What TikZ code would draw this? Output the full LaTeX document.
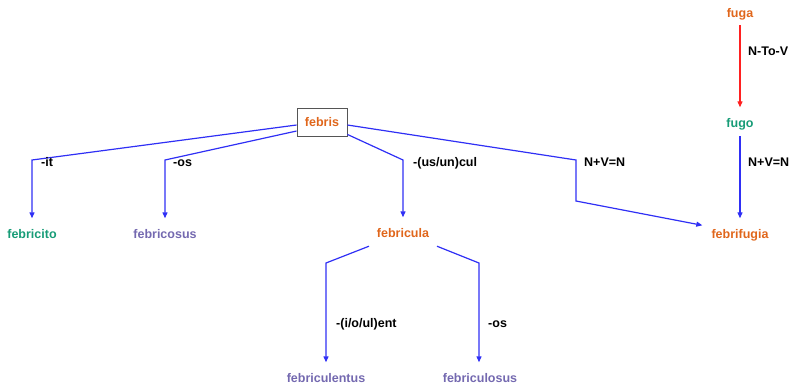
\documentclass[tikz,border=0pt]{standalone}
\usepackage{fontspec}
\setmainfont{Liberation Sans}
\usetikzlibrary{arrows.meta,calc}
\definecolor{wordorange}{HTML}{E0661B}
\definecolor{wordgreen}{HTML}{179C77}
\definecolor{wordpurple}{HTML}{7469B0}
\definecolor{linkblue}{HTML}{2F2FF5}
\definecolor{linkred}{HTML}{FF2020}
\definecolor{boxgray}{HTML}{555555}
\begin{document}
\begin{tikzpicture}[x=1bp,y=-1bp,
  every node/.style={font=\fontsize{12.5bp}{15bp}\selectfont\bfseries},
  word/.style={inner sep=0pt,text height=9.5bp,text depth=3bp,anchor=base},
  orangeword/.style={word,text=wordorange},
  greenword/.style={word,text=wordgreen},
  purpleword/.style={word,text=wordpurple},
  rootbox/.style={draw=boxgray,fill=white,line width=0.9bp,text=wordorange,
    minimum width=50bp,minimum height=28bp,inner sep=0pt},
  rulelabel/.style={inner sep=0pt,anchor=base west,text=black},
  link/.style={draw=linkblue,line width=1.2bp,-{Triangle[length=6bp,width=5bp]}},
  redlink/.style={link,draw=linkred,-{Triangle[length=6bp,width=5bp,fill=linkred]}}
]
\path[use as bounding box] (0,0) rectangle (791,388);

% words
\node[rootbox] (febris) at (322,122) {febris};
\node[greenword] (febricito) at (32,238) {febricito};
\node[purpleword] (febricosus) at (165,238) {febricosus};
\node[orangeword] (febricula) at (403,237) {febricula};
\node[orangeword] (febrifugia) at (740,238) {febrifugia};
\node[orangeword] (fuga) at (740,17) {fuga};
\node[greenword] (fugo) at (740,127) {fugo};
\node[purpleword] (febriculentus) at (326,382) {febriculentus};
\node[purpleword] (febriculosus) at (480,382) {febriculosus};

% bends of the connectors
\coordinate (b1) at (32,160);
\coordinate (b2) at (165,160);
\coordinate (b3) at (403,160);
\coordinate (b4) at (576,160);
\coordinate (b5) at (576,201);
\coordinate (b6) at (326,263);
\coordinate (b7) at (479,263);

% connectors from febris
\draw[link] ([shift={(0,3)}]febris.west) -- (b1) -- ([shift={(0,-10)}]febricito.north);
\draw[link] ([shift={(0,9)}]febris.west) -- (b2) -- ([shift={(0,-10)}]febricosus.north);
\draw[link] ([shift={(0,-2)}]febris.south east) -- (b3) -- ([shift={(0,-10)}]febricula.north);
\draw[link] ([shift={(0,3)}]febris.east) -- (b4) -- (b5) -- ([shift={(-9,-3)}]febrifugia.north west);

% connectors from febricula
\draw[link] ([shift={(-34,6)}]febricula.south) -- (b6) -- ([shift={(0,-10)}]febriculentus.north);
\draw[link] ([shift={(34,6)}]febricula.south) -- (b7) -- ([shift={(-1,-10)}]febriculosus.north);

% fuga -> fugo -> febrifugia
\draw[redlink] ([shift={(0,5)}]fuga.south) -- ([shift={(0,-10)}]fugo.north);
\draw[link] ([shift={(0,6)}]fugo.south) -- ([shift={(0,-10)}]febrifugia.north);

% rule labels
\node[rulelabel] (l1) at (41,166) {-it};
\node[rulelabel] (l2) at (173,166) {-os};
\node[rulelabel] (l3) at (413,166) {-(us/un)cul};
\node[rulelabel] (l4) at (584,166) {N+V=N};
\node[rulelabel] (l5) at (748,55) {N-To-V};
\node[rulelabel] (l6) at (748,166) {N+V=N};
\node[rulelabel] (l7) at (336,327) {-(i/o/ul)ent};
\node[rulelabel] (l8) at (488,327) {-os};
\end{tikzpicture}
\end{document}
